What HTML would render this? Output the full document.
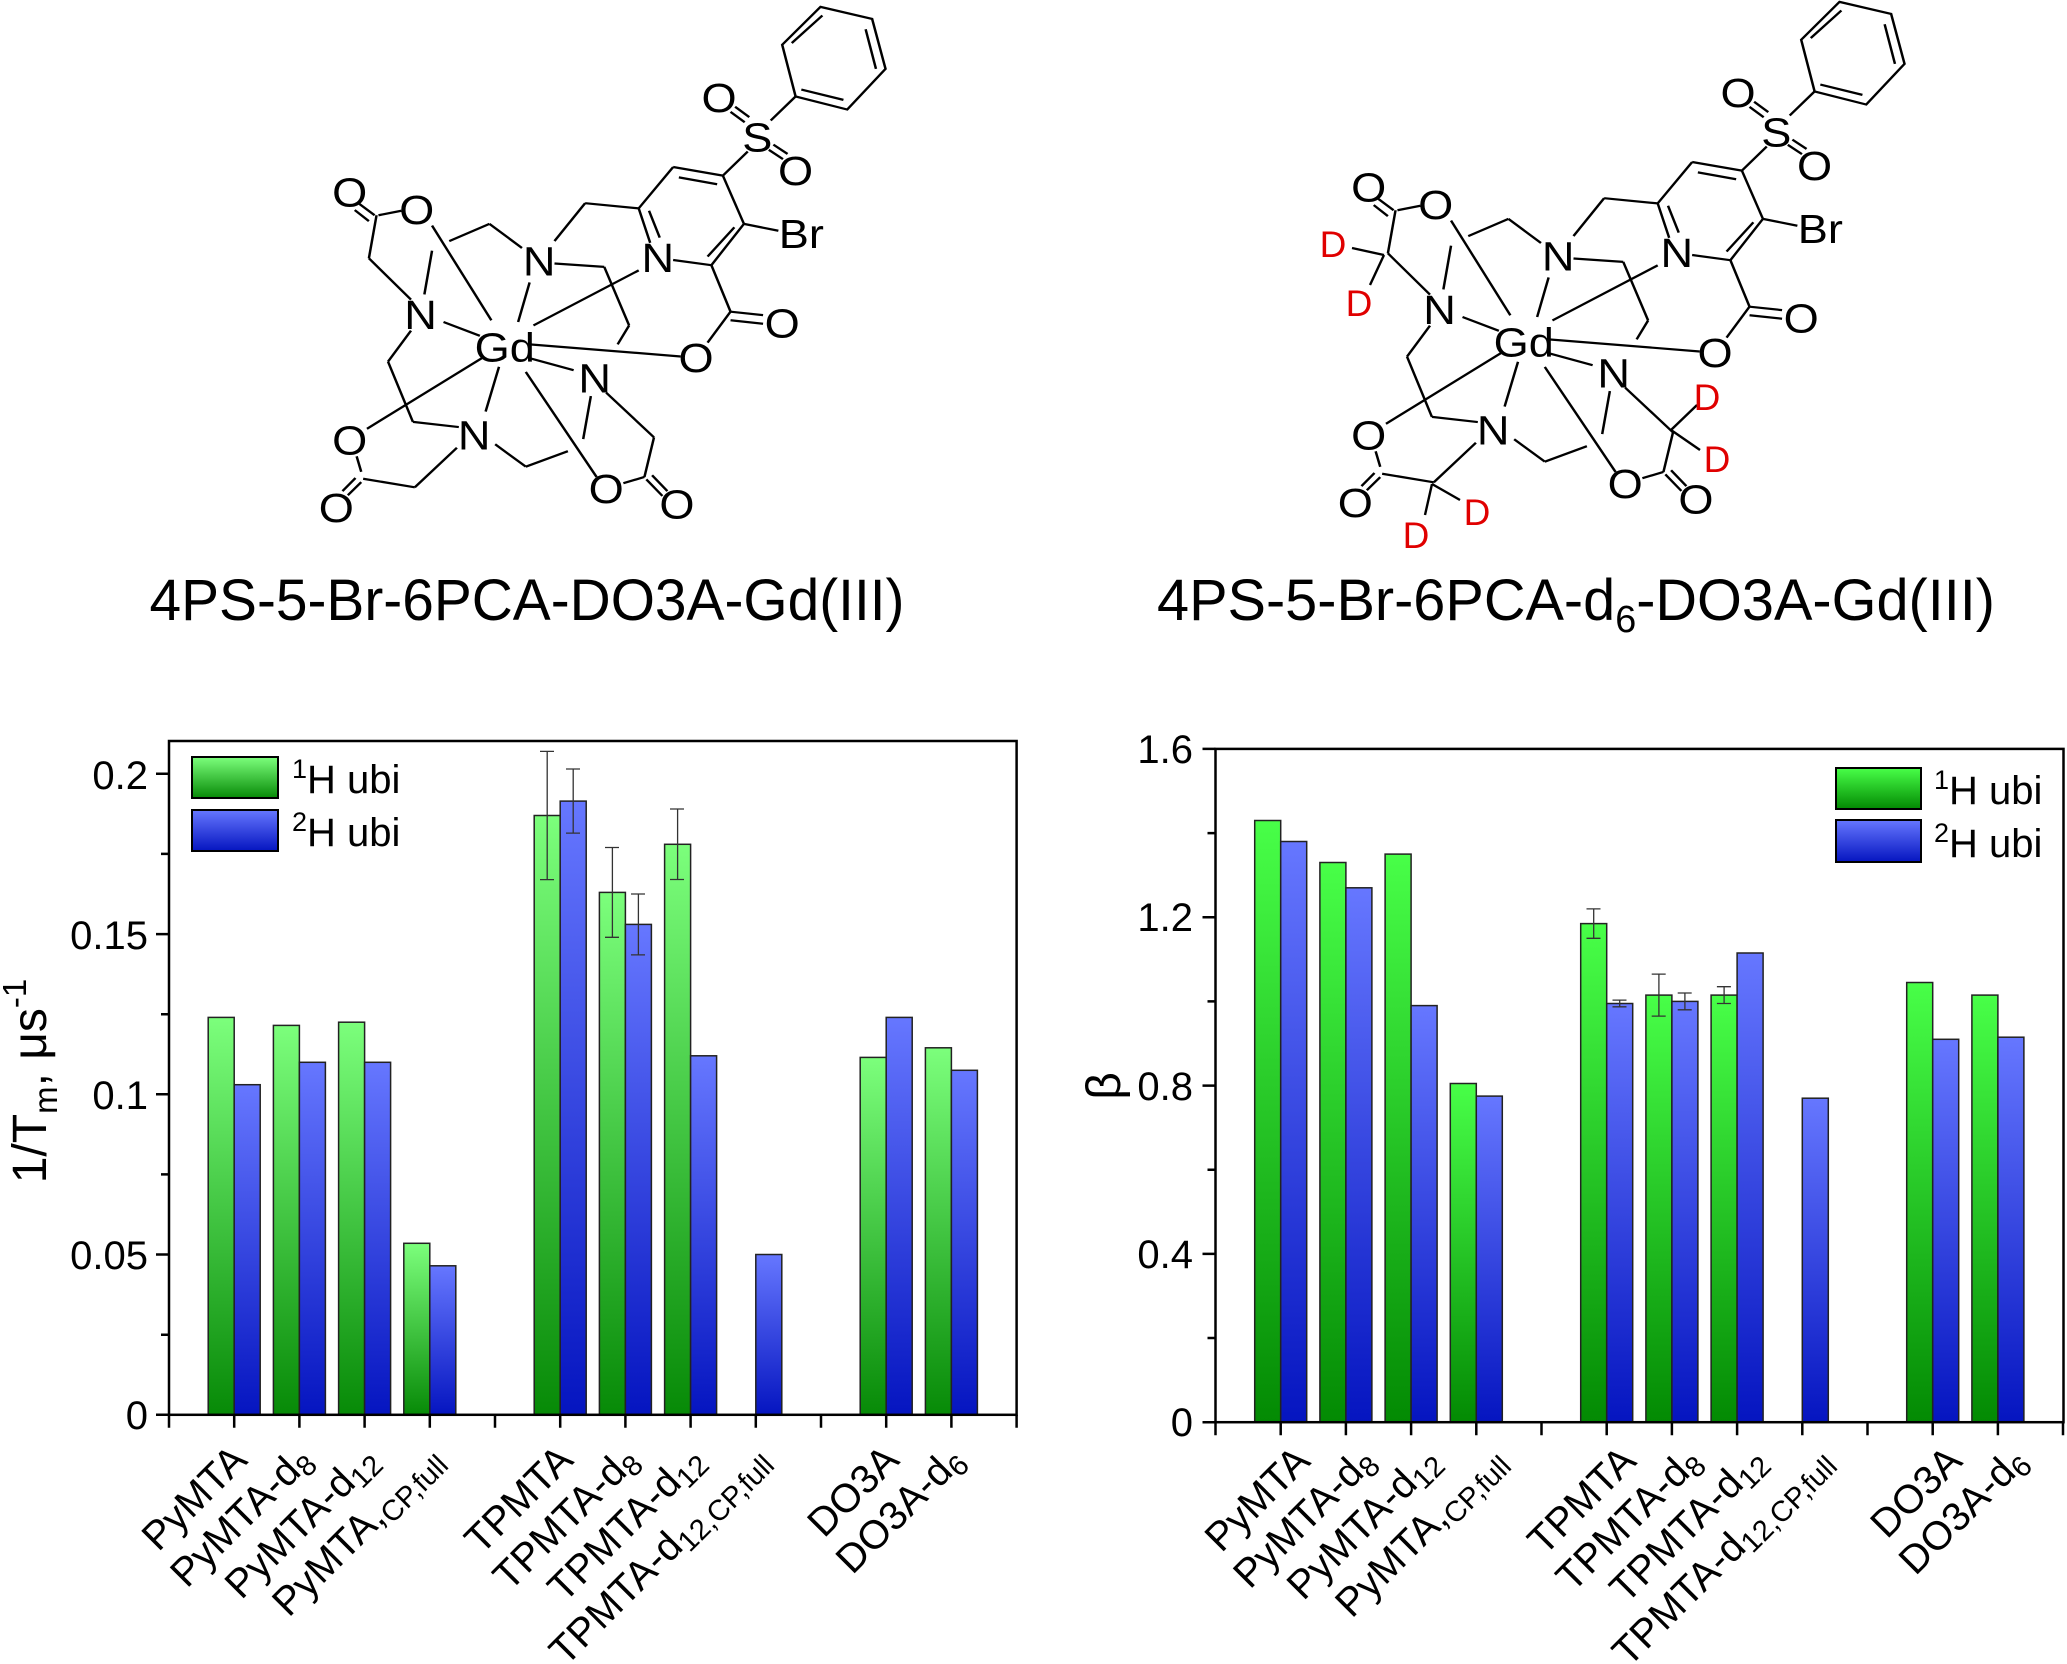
<!DOCTYPE html>
<html><head><meta charset="utf-8"><style>
html,body{margin:0;padding:0;background:#fff;}
svg{display:block;font-family:"Liberation Sans",Arial,sans-serif;}
</style></head><body>
<svg width="2067" height="1664" viewBox="0 0 2067 1664" xmlns="http://www.w3.org/2000/svg">
<defs>
<linearGradient id="gL" x1="0" y1="0" x2="0" y2="1"><stop offset="0" stop-color="#7cff7c"/><stop offset="1" stop-color="#078a07"/></linearGradient>
<linearGradient id="gR" x1="0" y1="0" x2="0" y2="1"><stop offset="0" stop-color="#48ff48"/><stop offset="1" stop-color="#038a03"/></linearGradient>
<linearGradient id="bL" x1="0" y1="0" x2="0" y2="1"><stop offset="0" stop-color="#6677ff"/><stop offset="1" stop-color="#0515c0"/></linearGradient>
<g id="mol" stroke="#000" stroke-width="6.5" fill="none">
<polygon points="1360,20 1495,55 1530,200 1430,318 1295,280 1260,130"/>
<line x1="1478" y1="85" x2="1505" y2="200"/><line x1="1420" y1="290" x2="1310" y2="260"/><line x1="1285" y1="125" x2="1365" y2="45"/>
<line x1="1230" y1="350" x2="1295" y2="280"/>
<line x1="1125" y1="325" x2="1162" y2="355"/><line x1="1137" y1="310" x2="1174" y2="340"/>
<line x1="1225" y1="435" x2="1262" y2="462"/><line x1="1237" y1="420" x2="1274" y2="447"/>
<line x1="1170" y1="440" x2="1105" y2="510"/>
<line x1="975" y1="485" x2="1105" y2="510"/><line x1="990" y1="515" x2="1090" y2="535"/>
<line x1="1105" y1="510" x2="1160" y2="650"/>
<line x1="1160" y1="650" x2="1075" y2="770"/><line x1="1135" y1="660" x2="1065" y2="745"/>
<line x1="1075" y1="770" x2="975" y2="755"/>
<line x1="915" y1="705" x2="885" y2="605"/><line x1="940" y1="690" x2="912" y2="612"/>
<line x1="885" y1="605" x2="975" y2="485"/>
<line x1="1160" y1="650" x2="1250" y2="670"/>
<line x1="885" y1="605" x2="745" y2="590"/><line x1="745" y1="590" x2="665" y2="700"/>
<line x1="1075" y1="770" x2="1125" y2="905"/>
<line x1="1125" y1="905" x2="1210" y2="915"/><line x1="1125" y1="930" x2="1210" y2="940"/>
<line x1="1125" y1="905" x2="1065" y2="995"/>
<line x1="580" y1="720" x2="495" y2="650"/><line x1="495" y1="650" x2="390" y2="700"/><line x1="345" y1="728" x2="325" y2="855"/>
<line x1="665" y1="765" x2="795" y2="775"/><line x1="795" y1="775" x2="860" y2="945"/><line x1="860" y1="945" x2="830" y2="1000"/>
<line x1="290" y1="960" x2="230" y2="1050"/><line x1="230" y1="1050" x2="295" y2="1225"/><line x1="295" y1="1225" x2="415" y2="1240"/>
<line x1="510" y1="1290" x2="590" y2="1355"/><line x1="590" y1="1355" x2="700" y2="1310"/><line x1="740" y1="1275" x2="760" y2="1150"/>
<line x1="290" y1="870" x2="180" y2="750"/><line x1="180" y1="750" x2="200" y2="625"/>
<line x1="195" y1="625" x2="155" y2="592"/><line x1="180" y1="642" x2="143" y2="610"/>
<line x1="205" y1="625" x2="265" y2="612"/>
<line x1="410" y1="1300" x2="300" y2="1415"/><line x1="300" y1="1415" x2="165" y2="1390"/><line x1="160" y1="1370" x2="148" y2="1325"/>
<line x1="160" y1="1400" x2="125" y2="1438"/><line x1="145" y1="1388" x2="111" y2="1426"/>
<line x1="800" y1="1140" x2="925" y2="1270"/><line x1="925" y1="1270" x2="900" y2="1385"/><line x1="900" y1="1385" x2="845" y2="1403"/>
<line x1="905" y1="1392" x2="947" y2="1440"/><line x1="920" y1="1380" x2="960" y2="1426"/>
<line x1="500" y1="930" x2="345" y2="655"/><line x1="570" y1="935" x2="600" y2="820"/><line x1="610" y1="945" x2="885" y2="785"/>
<line x1="600" y1="1000" x2="995" y2="1035"/><line x1="600" y1="1040" x2="715" y2="1075"/><line x1="590" y1="1080" x2="775" y2="1385"/>
<line x1="520" y1="1065" x2="485" y2="1195"/><line x1="475" y1="1040" x2="175" y2="1245"/><line x1="470" y1="975" x2="375" y2="935"/>
<g stroke="none" fill="#000" font-size="118" text-anchor="middle" font-family="Liberation Sans, sans-serif">
<text x="1195" y="440">S</text><text x="1095" y="325">O</text><text x="1295" y="537">O</text>
<text x="1310" y="720">Br</text><text x="935" y="790">N</text><text x="625" y="800">N</text>
<text x="1260" y="980">O</text><text x="1035" y="1080">O</text><text x="535" y="1050">Gd</text>
<text x="315" y="955">N</text><text x="455" y="1305">N</text><text x="770" y="1140">N</text>
<text x="130" y="600">O</text><text x="305" y="650">O</text>
<text x="130" y="1320">O</text><text x="95" y="1515">O</text>
<text x="800" y="1460">O</text><text x="985" y="1505">O</text>
</g>
</g>
</defs>
<rect width="2067" height="1664" fill="#fff"/>
<g transform="translate(300,0) scale(0.3827,0.3444)"><use href="#mol"/></g>
<g transform="translate(1319,-5) scale(0.3827,0.3444)"><use href="#mol"/></g>
<g stroke="#000" stroke-width="2.4">
<line x1="1352" y1="248" x2="1384" y2="255"/><line x1="1384" y1="255" x2="1370" y2="285"/>
<line x1="1671" y1="430" x2="1697" y2="405"/><line x1="1671" y1="430" x2="1700" y2="450"/>
<line x1="1432" y1="484" x2="1460" y2="500"/><line x1="1432" y1="484" x2="1425" y2="515"/>
</g>
<g fill="#e00000" font-size="37" text-anchor="middle">
<text x="1333" y="257">D</text><text x="1359" y="316">D</text><text x="1707" y="410">D</text>
<text x="1717" y="472">D</text><text x="1477" y="525">D</text><text x="1416" y="548">D</text>
</g>
<text x="527" y="620" font-size="58" text-anchor="middle" textLength="755" lengthAdjust="spacingAndGlyphs">4PS-5-Br-6PCA-DO3A-Gd(III)</text>
<text x="1157" y="620" font-size="58" textLength="838" lengthAdjust="spacingAndGlyphs">4PS-5-Br-6PCA-d<tspan font-size="38" dy="12">6</tspan><tspan dy="-12">-DO3A-Gd(III)</tspan></text>

<!-- LEFT CHART -->
<g stroke="#222" stroke-width="1.5">
<rect x="208.2" y="1017.4" width="26" height="397.4" fill="url(#gL)"/><rect x="234.2" y="1084.7" width="26" height="330.1" fill="url(#bL)"/>
<rect x="273.4" y="1025.4" width="26" height="389.4" fill="url(#gL)"/><rect x="299.4" y="1062.3" width="26" height="352.5" fill="url(#bL)"/>
<rect x="338.6" y="1022.2" width="26" height="392.6" fill="url(#gL)"/><rect x="364.6" y="1062.3" width="26" height="352.5" fill="url(#bL)"/>
<rect x="403.8" y="1243.3" width="26" height="171.5" fill="url(#gL)"/><rect x="429.8" y="1265.8" width="26" height="149" fill="url(#bL)"/>
<rect x="534.2" y="815.5" width="26" height="599.3" fill="url(#gL)"/><rect x="560.2" y="801.1" width="26" height="613.7" fill="url(#bL)"/>
<rect x="599.4" y="892.4" width="26" height="522.4" fill="url(#gL)"/><rect x="625.4" y="924.4" width="26" height="490.4" fill="url(#bL)"/>
<rect x="664.6" y="844.3" width="26" height="570.5" fill="url(#gL)"/><rect x="690.6" y="1055.8" width="26" height="359" fill="url(#bL)"/>
<rect x="755.8" y="1254.5" width="26" height="160.3" fill="url(#bL)"/>
<rect x="860.2" y="1057.4" width="26" height="357.4" fill="url(#gL)"/><rect x="886.2" y="1017.4" width="26" height="397.4" fill="url(#bL)"/>
<rect x="925.4" y="1047.8" width="26" height="367" fill="url(#gL)"/><rect x="951.4" y="1070.3" width="26" height="344.5" fill="url(#bL)"/>
</g>
<g stroke="#333" stroke-width="1.3" fill="none">
<path d="M547.2 751.4V879.6M540 751.4h14M540 879.6h14"/>
<path d="M573.2 769V833.1M566 769h14M566 833.1h14"/>
<path d="M612.4 847.5V937.3M605 847.5h14M605 937.3h14"/>
<path d="M638.4 894V954.9M631 894h14M631 954.9h14"/>
<path d="M677.6 809V879.5M670 809h14M670 879.5h14"/>
</g>
<g stroke="#000" stroke-width="2.5" fill="none">
<rect x="169" y="741" width="847.6" height="673.8"/>
<path d="M169 1414.8h-13M169 1254.5h-13M169 1094.3h-13M169 934.1h-13M169 773.8h-13M169 1334.7h-8M169 1174.4h-8M169 1014.2h-8M169 853.9h-8"/>
<path d="M169 1414.8v13M234.2 1414.8v13M299.4 1414.8v13M364.6 1414.8v13M429.8 1414.8v13M495 1414.8v13M560.2 1414.8v13M625.4 1414.8v13M690.6 1414.8v13M755.8 1414.8v13M821 1414.8v13M886.2 1414.8v13M951.4 1414.8v13M1016.6 1414.8v13"/>
</g>
<g font-size="40" text-anchor="end">
<text x="148" y="1429">0</text><text x="148" y="1269">0.05</text><text x="148" y="1109">0.1</text><text x="148" y="949">0.15</text><text x="148" y="789">0.2</text>
</g>
<text transform="translate(46,1081) rotate(-90)" font-size="48" text-anchor="middle">1/T<tspan font-size="33" dy="11">m</tspan><tspan dy="-11">, μs</tspan><tspan font-size="33" dy="-20">-1</tspan></text>
<rect x="192" y="757" width="86" height="41" fill="url(#gL)" stroke="#000" stroke-width="2"/>
<rect x="192" y="810" width="86" height="41" fill="url(#bL)" stroke="#000" stroke-width="2"/>
<text x="292" y="793" font-size="40"><tspan font-size="27" dy="-15">1</tspan><tspan dy="15">H ubi</tspan></text>
<text x="292" y="846" font-size="40"><tspan font-size="27" dy="-15">2</tspan><tspan dy="15">H ubi</tspan></text>
<g font-size="40" text-anchor="end">
<text transform="translate(249,1462) rotate(-45)">PyMTA</text>
<text transform="translate(314,1462) rotate(-45)">PyMTA-d<tspan font-size="29" dy="7">8</tspan></text>
<text transform="translate(380,1462) rotate(-45)">PyMTA-d<tspan font-size="29" dy="7">12</tspan></text>
<text transform="translate(445,1462) rotate(-45)">PyMTA,<tspan font-size="29" dy="7">CP,full</tspan></text>
<text transform="translate(575,1462) rotate(-45)">TPMTA</text>
<text transform="translate(640,1462) rotate(-45)">TPMTA-d<tspan font-size="29" dy="7">8</tspan></text>
<text transform="translate(706,1462) rotate(-45)">TPMTA-d<tspan font-size="29" dy="7">12</tspan></text>
<text transform="translate(771,1462) rotate(-45)">TPMTA-d<tspan font-size="29" dy="7">12</tspan><tspan font-size="29">,CP,full</tspan></text>
<text transform="translate(901,1462) rotate(-45)">DO3A</text>
<text transform="translate(966,1462) rotate(-45)">DO3A-d<tspan font-size="29" dy="7">6</tspan></text>
</g>

<!-- RIGHT CHART -->
<g stroke="#222" stroke-width="1.5">
<rect x="1254.7" y="820.5" width="26" height="601.7" fill="url(#gR)"/><rect x="1280.7" y="841.5" width="26" height="580.7" fill="url(#bL)"/>
<rect x="1319.9" y="862.5" width="26" height="559.7" fill="url(#gR)"/><rect x="1345.9" y="887.8" width="26" height="534.4" fill="url(#bL)"/>
<rect x="1385.1" y="854.1" width="26" height="568.1" fill="url(#gR)"/><rect x="1411.1" y="1005.6" width="26" height="416.6" fill="url(#bL)"/>
<rect x="1450.3" y="1083.5" width="26" height="338.7" fill="url(#gR)"/><rect x="1476.3" y="1096.1" width="26" height="326.1" fill="url(#bL)"/>
<rect x="1580.7" y="923.6" width="26" height="498.6" fill="url(#gR)"/><rect x="1606.7" y="1003.5" width="26" height="418.7" fill="url(#bL)"/>
<rect x="1645.9" y="995.1" width="26" height="427.1" fill="url(#gR)"/><rect x="1671.9" y="1001.4" width="26" height="420.8" fill="url(#bL)"/>
<rect x="1711.1" y="995.1" width="26" height="427.1" fill="url(#gR)"/><rect x="1737.1" y="953" width="26" height="469.2" fill="url(#bL)"/>
<rect x="1802.3" y="1098.2" width="26" height="324" fill="url(#bL)"/>
<rect x="1906.7" y="982.5" width="26" height="439.7" fill="url(#gR)"/><rect x="1932.7" y="1039.3" width="26" height="382.9" fill="url(#bL)"/>
<rect x="1971.9" y="995.1" width="26" height="427.1" fill="url(#gR)"/><rect x="1997.9" y="1037.2" width="26" height="385" fill="url(#bL)"/>
</g>
<g stroke="#333" stroke-width="1.3" fill="none">
<path d="M1593.7 908.9V938.3M1586.5 908.9h14M1586.5 938.3h14"/>
<path d="M1619.7 1000.1V1006.8M1612.5 1000.1h14M1612.5 1006.8h14"/>
<path d="M1658.9 974.1V1016.1M1651.7 974.1h14M1651.7 1016.1h14"/>
<path d="M1684.9 993V1009.8M1677.7 993h14M1677.7 1009.8h14"/>
<path d="M1724.1 986.7V1003.5M1716.9 986.7h14M1716.9 1003.5h14"/>
</g>
<g stroke="#000" stroke-width="2.5" fill="none">
<rect x="1215.5" y="748.9" width="848" height="673.3"/>
<path d="M1215.5 1422.2h-13M1215.5 1253.9h-13M1215.5 1085.6h-13M1215.5 917.2h-13M1215.5 748.9h-13M1215.5 1338h-8M1215.5 1169.7h-8M1215.5 1001.4h-8M1215.5 833.1h-8"/>
<path d="M1215.5 1422.2v13M1280.7 1422.2v13M1345.9 1422.2v13M1411.1 1422.2v13M1476.3 1422.2v13M1541.5 1422.2v13M1606.7 1422.2v13M1671.9 1422.2v13M1737.1 1422.2v13M1802.3 1422.2v13M1867.5 1422.2v13M1932.7 1422.2v13M1997.9 1422.2v13M2063 1422.2v13"/>
</g>
<g font-size="40" text-anchor="end">
<text x="1193" y="1436">0</text><text x="1193" y="1268">0.4</text><text x="1193" y="1100">0.8</text><text x="1193" y="931">1.2</text><text x="1193" y="763">1.6</text>
</g>
<text transform="translate(1120,1086) rotate(-90)" font-size="48" text-anchor="middle">β</text>
<rect x="1836" y="768" width="85" height="41" fill="url(#gR)" stroke="#000" stroke-width="2"/>
<rect x="1836" y="820" width="85" height="42" fill="url(#bL)" stroke="#000" stroke-width="2"/>
<text x="1934" y="804" font-size="40"><tspan font-size="27" dy="-15">1</tspan><tspan dy="15">H ubi</tspan></text>
<text x="1934" y="857" font-size="40"><tspan font-size="27" dy="-15">2</tspan><tspan dy="15">H ubi</tspan></text>
<g font-size="40" text-anchor="end">
<text transform="translate(1312,1463) rotate(-45)">PyMTA</text>
<text transform="translate(1377,1463) rotate(-45)">PyMTA-d<tspan font-size="29" dy="7">8</tspan></text>
<text transform="translate(1442,1463) rotate(-45)">PyMTA-d<tspan font-size="29" dy="7">12</tspan></text>
<text transform="translate(1508,1463) rotate(-45)">PyMTA,<tspan font-size="29" dy="7">CP,full</tspan></text>
<text transform="translate(1638,1463) rotate(-45)">TPMTA</text>
<text transform="translate(1703,1463) rotate(-45)">TPMTA-d<tspan font-size="29" dy="7">8</tspan></text>
<text transform="translate(1768,1463) rotate(-45)">TPMTA-d<tspan font-size="29" dy="7">12</tspan></text>
<text transform="translate(1834,1463) rotate(-45)">TPMTA-d<tspan font-size="29" dy="7">12</tspan><tspan font-size="29">,CP,full</tspan></text>
<text transform="translate(1964,1463) rotate(-45)">DO3A</text>
<text transform="translate(2029,1463) rotate(-45)">DO3A-d<tspan font-size="29" dy="7">6</tspan></text>
</g>
</svg>
</body></html>
